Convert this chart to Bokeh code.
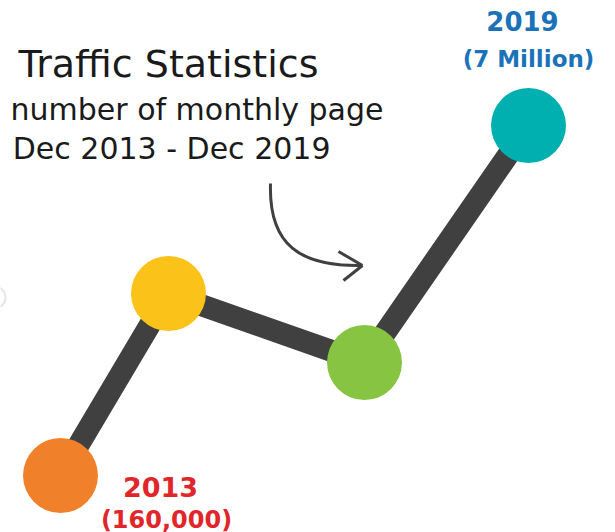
from bokeh.plotting import figure
from bokeh.models import Range1d
from bokeh.core.properties import value
from bokeh.embed import file_html
from bokeh.resources import INLINE

# Data (chart coordinates)
point_x = [60, 168, 364, 528]
point_y = [475, 293, 362, 125]
point_colors = ["#F0812A", "#FBC21A", "#86C441", "#00AFAF"]
start_year, start_value = "2013", "(160,000)"
end_year, end_value = "2019", "(7 Million)"
title_text = "Traffic Statistics"
subtitle_1 = "number of monthly page"
subtitle_2 = "Dec 2013 - Dec 2019"

W, H = 615, 532
p = figure(width=W, height=H, output_backend="svg", toolbar_location=None,
           x_range=Range1d(0, W), y_range=Range1d(H, 0), min_border=0)
p.axis.visible = False
p.grid.visible = False
p.outline_line_color = None
p.background_fill_color = "white"
p.border_fill_color = "white"

dark = "#404040"

# connecting line
p.line(point_x, point_y, line_width=22, line_color=dark, line_join="miter")
# circles
p.scatter(point_x, point_y, size=75, fill_color=point_colors, line_color=None)

# faint partial ring at left edge
p.scatter([-6], [297], size=22, fill_color=None, line_color="#e6e6e6", line_width=2)

# curved arrow
p.bezier(x0=[270], y0=[183], x1=[361], y1=[265], cx0=[268], cy0=[245],
         cx1=[300], cy1=[266], line_color=dark, line_width=3)
p.segment(x0=[338, 343], y0=[251, 280], x1=[362, 362], y1=[265, 265],
          line_color=dark, line_width=3)

tf = value("DejaVu Sans")
p.text([318], [63], text=[title_text], text_font=tf,
       text_font_size="38px", text_align="right", text_baseline="alphabetic",
       text_color="#1a1a1a")
p.text([383], [109], text=[subtitle_1], text_font=tf,
       text_font_size="30px", text_align="right", text_baseline="alphabetic",
       text_color="#1a1a1a")
p.text([330], [148], text=[subtitle_2], text_font=tf,
       text_font_size="30px", text_align="right", text_baseline="alphabetic",
       text_color="#1a1a1a")

red = "#E1262B"
blue = "#1A72B8"
p.text([160], [486], text=[start_year], text_font=tf,
       text_font_style="bold", text_font_size="27px", text_align="center",
       text_baseline="alphabetic", text_color=red)
p.text([166], [519], text=[start_value], text_font=tf,
       text_font_style="bold", text_font_size="24px", text_align="center",
       text_baseline="alphabetic", text_color=red)
p.text([522], [20], text=[end_year], text_font=tf,
       text_font_style="bold", text_font_size="26px", text_align="center",
       text_baseline="alphabetic", text_color=blue)
p.text([528], [58], text=[end_value], text_font=tf,
       text_font_style="bold", text_font_size="23px", text_align="center",
       text_baseline="alphabetic", text_color=blue)

open("out.html", "w").write(file_html(p, INLINE))
